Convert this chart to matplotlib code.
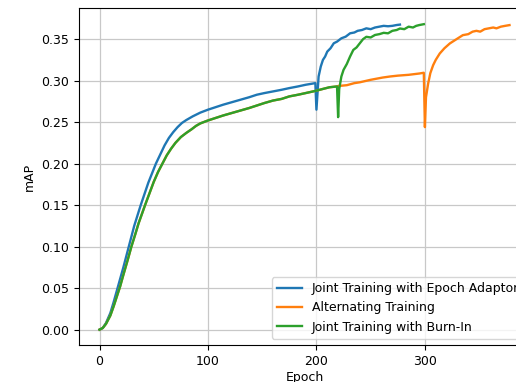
import matplotlib
matplotlib.use("Agg")
import matplotlib.pyplot as plt

# shared start (burn-in and alternating training coincide until epoch 219)
base_epochs = [0, 3, 6, 10, 13, 16, 19, 22, 26, 29.4, 33, 36, 39, 42, 46, 50, 54, 58,
               62, 66, 70, 75, 80, 85, 89, 93, 100, 107, 114, 122, 130, 138, 145, 152,
               160, 168, 175, 183, 190, 199, 206, 212, 219]
base_map = [0.0, 0.002, 0.007, 0.017, 0.028, 0.040, 0.052, 0.066, 0.084, 0.100, 0.115,
            0.128, 0.139, 0.150, 0.164, 0.178, 0.190, 0.200, 0.210, 0.218, 0.225,
            0.232, 0.237, 0.2415, 0.2455, 0.2485, 0.252, 0.255, 0.258, 0.261, 0.264,
            0.267, 0.270, 0.273, 0.276, 0.278, 0.281, 0.283, 0.285, 0.2876, 0.290,
            0.292, 0.293]

# joint training with epoch adaptor
adaptor_epochs = [0, 3, 6, 10, 13, 16, 19, 22, 27, 32, 38, 45, 52, 60, 64, 68, 72, 76,
                  80, 86, 93, 100, 107, 114, 122, 130, 138, 145, 152, 160, 168, 175,
                  183, 190, 199, 200, 202, 204, 206, 208, 210, 213, 216, 219, 223, 227,
                  231, 235, 238, 242, 246, 250, 254, 258, 262, 266, 270, 274, 277]
adaptor_map = [0.0, 0.002, 0.008, 0.020, 0.033, 0.047, 0.061, 0.075, 0.100, 0.125,
               0.150, 0.177, 0.200, 0.222, 0.231, 0.238, 0.244, 0.249, 0.2525, 0.257,
               0.2615, 0.265, 0.268, 0.271, 0.274, 0.277, 0.280, 0.283, 0.285, 0.287,
               0.289, 0.291, 0.293, 0.295, 0.297, 0.265, 0.305, 0.317, 0.325, 0.329,
               0.335, 0.339, 0.345, 0.347, 0.351, 0.353, 0.357, 0.358, 0.360, 0.361,
               0.363, 0.362, 0.364, 0.365, 0.366, 0.3655, 0.366, 0.367, 0.3675]

# joint training with burn-in (after epoch 219)
burnin_epochs = [220, 221, 223, 225, 228, 231, 234, 237, 240, 243, 246, 250, 254, 258,
                 262, 266, 270, 274, 277, 281, 285, 289, 292, 295, 299]
burnin_map = [0.256, 0.290, 0.305, 0.313, 0.320, 0.329, 0.337, 0.340, 0.345, 0.350,
              0.3528, 0.352, 0.355, 0.356, 0.3576, 0.357, 0.360, 0.361, 0.3628,
              0.362, 0.365, 0.364, 0.366, 0.367, 0.368]

# alternating training (after epoch 219)
alt_epochs = [220, 228, 235, 240, 250, 261, 268, 275, 285, 295, 299, 300, 301, 303,
              305, 307.6, 310, 313.7, 318, 323, 328, 335, 340, 344, 347.5, 351, 355,
              359, 363, 366, 370, 374, 378]
alt_map = [0.2935, 0.2945, 0.297, 0.298, 0.301, 0.3037, 0.305, 0.306, 0.307, 0.3086,
           0.3095, 0.244, 0.280, 0.2965, 0.309, 0.3186, 0.325, 0.3327, 0.339, 0.3448,
           0.349, 0.3548, 0.356, 0.359, 0.360, 0.359, 0.362, 0.363, 0.364, 0.363,
           0.365, 0.366, 0.3669]

labels = ["Joint Training with Epoch Adaptor", "Alternating Training",
          "Joint Training with Burn-In"]

fig = plt.figure(figsize=(5.16, 3.82), dpi=100)
ax = fig.add_axes([79 / 516, 37 / 382, 451 / 516, 337 / 382])

ax.plot(adaptor_epochs, adaptor_map, color="#1f77b4", lw=1.7, label=labels[0])
ax.plot(base_epochs + alt_epochs, base_map + alt_map, color="#ff7f0e", lw=1.7,
        label=labels[1])
ax.plot(base_epochs + burnin_epochs, base_map + burnin_map, color="#2ca02c", lw=1.7,
        label=labels[2])

ax.set_xlim(-18.9, 396.9)
ax.set_ylim(-0.0185, 0.3875)
ax.set_xticks([0, 100, 200, 300])
ax.set_yticks([0.0, 0.05, 0.10, 0.15, 0.20, 0.25, 0.30, 0.35])
ax.set_yticklabels(["0.00", "0.05", "0.10", "0.15", "0.20", "0.25", "0.30", "0.35"])
ax.tick_params(labelsize=9)
ax.grid(True, color="#c8c8c8", lw=0.9)
ax.set_xlabel("Epoch", fontsize=9, labelpad=2)
ax.set_ylabel("mAP", fontsize=9)
ax.legend(loc="lower right", fontsize=9)

fig.savefig("out.png", dpi=100)
